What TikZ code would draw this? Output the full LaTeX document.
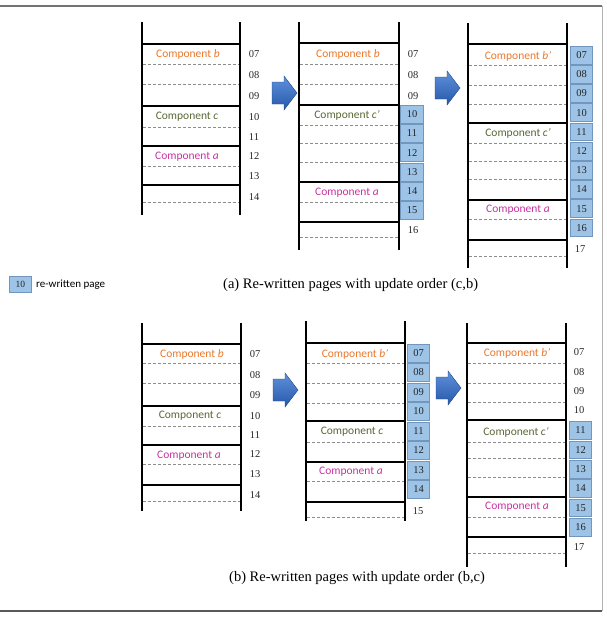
\documentclass[tikz,border=0pt]{standalone}
\usepackage{fontspec}
\setmainfont{Liberation Serif}
\newfontfamily\calfont{Carlito}
\definecolor{compB}{RGB}{232,120,45}
\definecolor{compC}{RGB}{88,104,52}
\definecolor{compA}{RGB}{200,50,160}
\definecolor{boxfill}{RGB}{157,195,230}
\definecolor{boxline}{RGB}{115,150,188}
\definecolor{arrtop}{RGB}{95,145,220}
\definecolor{arrbot}{RGB}{38,88,170}
\begin{document}
\begin{tikzpicture}[x=1pt,y=-1pt,
  solidln/.style={line width=1.5pt, black},
  dashln/.style={black!45, line width=0.7pt, dash pattern=on 3pt off 2pt},
  pagebox/.style={draw=boxline, fill=boxfill, line width=0.6pt, minimum width=22.5pt, minimum height=17.8pt, inner sep=0pt, font=\fontsize{10.5}{11}\selectfont, text=black!85},
  pagenum/.style={font=\fontsize{10.5}{11}\selectfont, text=black!85, inner sep=0pt},
  comp/.style={font=\calfont\fontsize{11.5}{13}\selectfont, inner sep=0pt},
  caption/.style={font=\fontsize{14.5}{16}\selectfont, inner sep=0pt, anchor=west},
  blockarrow/.pic={\shade[top color=arrtop, bottom color=arrbot, draw=arrbot!80!black, line width=0.4pt]
     (0,-11) -- (12,-11) -- (12,-17) -- (25,0) -- (12,17) -- (12,11) -- (0,11) -- cycle;}
]
\useasboundingbox (0,0) rectangle (606,624);
% frame
\draw[black!55, line width=1.2pt] (0,6) -- (602,6);
\draw[black!30, line width=1pt] (602,6) -- (602,611);
\draw[black!65, line width=1.3pt] (0,611) -- (602,611);

% ================= (a) =================
% stack A1
\draw[solidln] (142,22) -- (142,215) (240,22) -- (240,215);
\foreach \y in {44,106,146,185} \draw[solidln] (142,\y) -- (240,\y);
\foreach \y in {64,84,127,166,202} \draw[dashln] (143,\y) -- (239,\y);
\foreach \n/\y in {07/54,08/75,09/96,10/117,11/137,12/156,13/176,14/197}
  \node[pagenum] (na1\n) at (254,\y) {\n};
\node[comp, text=compB] (a1b) at (188,54) {Component \textit{b}};
\node[comp, text=compC] (a1c) at (187,117) {Component \textit{c}};
\node[comp, text=compA] (a1a) at (187,157) {Component \textit{a}};

\pic (arr1) at (272,93) {blockarrow};

% stack A2
\draw[solidln] (299,22) -- (299,250) (399,22) -- (399,250);
\foreach \y in {43,105,182,222} \draw[solidln] (299,\y) -- (399,\y);
\foreach \y in {64,84,125,143,162,202,237} \draw[dashln] (300,\y) -- (398,\y);
\foreach \n/\y in {07/54,08/75,09/96,16/230}
  \node[pagenum] (na2\n) at (413,\y) {\n};
\foreach \n [count=\k from 0] in {10,11,12,13,14,15}
  \node[pagebox] (pa2\n) at (412,{114+19.3*\k}) {\n};
\node[comp, text=compB] (a2b) at (348,54) {Component \textit{b}};
\node[comp, text=compC] (a2c) at (347,115) {Component \textit{c’}};
\node[comp, text=compA] (a2a) at (347,193) {Component \textit{a}};

\pic (arr2) at (435,88) {blockarrow};

% stack A3
\draw[solidln] (468,23) -- (468,268) (567,23) -- (567,268);
\foreach \y in {44,123,200,240} \draw[solidln] (468,\y) -- (567,\y);
\foreach \y in {65,85,104,143,161,179,219,256} \draw[dashln] (469,\y) -- (566,\y);
\foreach \n [count=\k from 0] in {07,08,09,10,11,12,13,14,15,16}
  \node[pagebox] (pa3\n) at (581.5,{55+19.2*\k}) {\n};
\node[pagenum] (na317) at (580,249) {17};
\node[comp, text=compB] (a3b) at (518,56) {Component \textit{b’}};
\node[comp, text=compC] (a3c) at (518,133) {Component \textit{c’}};
\node[comp, text=compA] (a3a) at (518,210) {Component \textit{a}};

% legend and caption (a)
\node[pagebox, minimum height=16pt, font=\fontsize{9.5}{10}\selectfont] (leg) at (20.5,284.5) {10};
\node[comp, font=\calfont\fontsize{11}{12}\selectfont, anchor=west] (legtxt) at (36,284.5) {re-written page};
\node[caption] (capa) at (223,285) {(a) Re-written pages with update order (c,b)};

% ================= (b) =================
% stack B1
\draw[solidln] (142,323) -- (142,511) (241,323) -- (241,511);
\foreach \y in {344,406,445,485} \draw[solidln] (142,\y) -- (241,\y);
\foreach \y in {363,383,426,464,501} \draw[dashln] (143,\y) -- (240,\y);
\foreach \n/\y in {07/354,08/375,09/395,10/416,11/435,12/454,13/474,14/495}
  \node[pagenum] (nb1\n) at (255,\y) {\n};
\node[comp, text=compB] (b1b) at (192,354) {Component \textit{b}};
\node[comp, text=compC] (b1c) at (190,416) {Component \textit{c}};
\node[comp, text=compA] (b1a) at (189,456) {Component \textit{a}};

\pic (arr3) at (273,390) {blockarrow};

% stack B2
\draw[solidln] (306,321) -- (306,521) (405,321) -- (405,521);
\foreach \y in {343,421,462,502} \draw[solidln] (306,\y) -- (405,\y);
\foreach \y in {363,383,403,442,481,517} \draw[dashln] (307,\y) -- (404,\y);
\foreach \n [count=\k from 0] in {07,08,09,10,11,12,13,14}
  \node[pagebox] (pb2\n) at (418.5,{353+19.5*\k}) {\n};
\node[pagenum] (nb215) at (418,511) {15};
\node[comp, text=compB] (b2b) at (355,354) {Component \textit{b’}};
\node[comp, text=compC] (b2c) at (352,432) {Component \textit{c}};
\node[comp, text=compA] (b2a) at (351,472) {Component \textit{a}};

\pic (arr4) at (436,388) {blockarrow};

% stack B3
\draw[solidln] (467,323) -- (467,567) (566,323) -- (566,567);
\foreach \y in {343,420,497,537} \draw[solidln] (467,\y) -- (566,\y);
\foreach \y in {363,383,402,442,458,477,517,553} \draw[dashln] (468,\y) -- (565,\y);
\foreach \n/\y in {07/352,08/372,09/391,10/410,17/547}
  \node[pagenum] (nb3\n) at (579,\y) {\n};
\foreach \n [count=\k from 0] in {11,12,13,14,15,16}
  \node[pagebox] (pb3\n) at (580.5,{430.5+19.3*\k}) {\n};
\node[comp, text=compB] (b3b) at (517,353) {Component \textit{b’}};
\node[comp, text=compC] (b3c) at (516,432) {Component \textit{c’}};
\node[comp, text=compA] (b3a) at (517,507) {Component \textit{a}};

\node[caption] (capb) at (229,578) {(b) Re-written pages with update order (b,c)};
\end{tikzpicture}
\end{document}
